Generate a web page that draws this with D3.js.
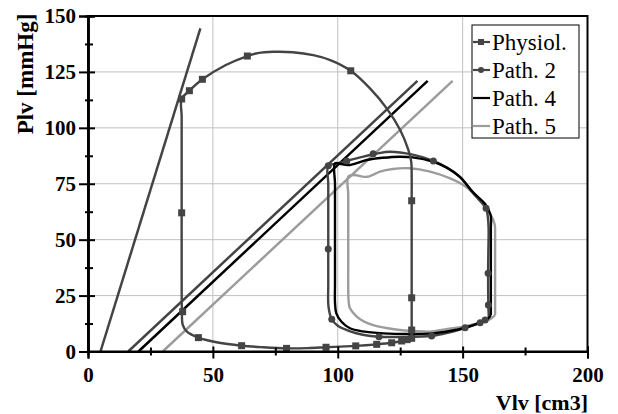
<!DOCTYPE html>
<html>
<head>
<meta charset="utf-8">
<script src="https://cdn.jsdelivr.net/npm/d3@7"></script>
<style>
  body { margin: 0; background: #fff; }
  svg { display: block; }
</style>
</head>
<body>
<script>
// chart values
const xTicks = [0, 50, 100, 150, 200];
const yTicks = [0, 25, 50, 75, 100, 125, 150];
const xMinor = [25, 75, 125, 175];
const yMinor = [12.5, 37.5, 62.5, 87.5, 112.5, 137.5];

const seriesNames = ["Physiol.", "Path. 2", "Path. 4", "Path. 5"];

// pressure-volume loops [V, P]
const physiolLoop = [[129.6,5.9],[129.6,9.6],[129.6,24],[129.6,45],[129.6,67.4],[129.6,78],[129.4,85],[128.3,90],[125,99],[119.6,108.7],[113,117.5],[105.2,125.5],[97,130.3],[90.2,132.5],[82,133.8],[74.2,134],[68,133.4],[63.8,132.1],[55,128],[45.8,121.7],[40.6,116.6],[37.5,112.9],[37.5,105],[37.5,90],[37.5,62],[37.5,35],[37.6,17.8],[37.9,12],[39.5,9],[44.2,6.2],[52,4],[61.5,2.6],[70,1.9],[79.5,1.4],[88,1.5],[95.3,1.9],[101,2.2],[107.2,2.5],[115.6,3.2],[121.6,3.9],[125.6,4.7],[129.6,5.9]];
const physiolMarkers = [[37.5,112.9],[40.6,116.6],[45.8,121.7],[63.8,132.1],[105.2,125.5],[129.6,67.4],[129.6,24],[129.6,9.6],[129.6,5.9],[127.8,5.3],[125.6,4.7],[121.6,3.9],[115.6,3.2],[107.2,2.5],[95.3,1.9],[79.5,1.4],[61.5,2.6],[44.2,6.2],[37.9,17.8],[37.5,62]];

const path2Loop = [[160.5,15],[160.3,20.8],[160.2,35],[160.3,45],[160.4,55],[160.1,60],[159.4,64],[156.5,68],[154.3,70.7],[149,78],[143.5,82.3],[138.3,85.2],[130,88],[121,89.3],[115.6,88.5],[109,86.8],[103.6,85.2],[99.5,84],[96.2,83],[96.2,75],[96.2,60],[96.2,45.8],[96.2,30],[96.3,20],[97.6,14.4],[100,11.5],[105,9],[110,7.5],[116.5,6.6],[125,6.5],[137.6,6.9],[144,8.3],[151,10.6],[157,12.9],[159,14.1],[160.5,15]];
const path2Markers = [[96.2,83],[103.6,85.2],[114.2,88.4],[138.3,85.2],[159.4,64],[160.2,35],[160.3,20.8],[159,14.1],[157,12.9],[151,10.6],[137.6,6.9],[116.5,6.6],[97.6,14.4],[96.2,45.8]];

const path4Loop = [[161.3,16.3],[161.3,30],[161.3,45],[161.3,55],[161.2,61],[159,66],[154.3,71],[149,78],[143.5,82.3],[138.3,84.8],[130,86.8],[124.9,87.1],[118,86.6],[111.6,85.6],[107,84],[104.9,83.4],[101.5,83.8],[98.9,84.1],[98.9,75],[98.9,60],[98.9,45],[98.9,30],[98.9,22],[99.4,17.2],[101.5,13.3],[104.9,10.4],[110,9],[118.2,8.1],[128,7.8],[138.3,8.1],[145,9.2],[150.3,10.4],[156,12.5],[160,14.5],[161.3,16.3]];

const path5Loop = [[163,16.3],[163,30],[163,45],[163,52],[162.8,57],[161,61.5],[158.3,65.5],[154.5,70.5],[150.3,74.4],[145,77.4],[137,80.4],[128.9,81.9],[122,81.6],[116.9,80.4],[113.5,78.7],[111.6,78.1],[109,78.4],[106.9,78.9],[104.2,78.1],[104.2,70],[104.2,55],[104.2,40],[104.2,28],[104.4,22],[104.9,19.3],[107.6,15.6],[110.5,13.4],[114.2,11.8],[120,10.4],[124.9,9.6],[130,9.2],[137,8.9],[143,9.9],[150.3,11.1],[156,12.6],[161,14.4],[163,16.3]];

// end-systolic pressure-volume lines
const physiolEspvr = [[5,0],[45,144.5]];
const path2Espvr = [[16.1,0],[131.9,121]];
const path4Espvr = [[20.2,0],[136,121]];
const path5Espvr = [[29.9,0],[146,121]];

const colors = ["#444444", "#444444", "#000000", "#9c9c9c"];
const font = "'Liberation Serif', 'Times New Roman', serif";

let svg, x, y, line, smooth;
const W = 618, H = 414;
const margin = {top: 16, left: 88, bottom: 62.5, right: 30.5};

appendSvg("body");
setupScales();
appendGrid();
appendEspvrLines();
appendLoops();
appendMarkers();
appendAxes();
appendLegend();
appendLabels();

function appendSvg(el) {
  svg = d3.select(el).append("svg").attr("width", W).attr("height", H);
}

function setupScales() {
  x = d3.scaleLinear().domain([0, 200]).range([margin.left, W - margin.right]);
  y = d3.scaleLinear().domain([0, 150]).range([H - margin.bottom, margin.top]);
  line = d3.line().x(d => x(d[0])).y(d => y(d[1]));
  smooth = d3.line().x(d => x(d[0])).y(d => y(d[1])).curve(d3.curveCatmullRom.alpha(0.5));
}

function appendGrid() {
  const g = svg.append("g").attr("stroke", "#c0c0c0").attr("stroke-width", 1);
  g.selectAll(".gx").data(xTicks.slice(1, -1)).enter().append("line")
    .attr("x1", d => x(d)).attr("x2", d => x(d))
    .attr("y1", y(0)).attr("y2", y(150));
  g.selectAll(".gy").data(yTicks.slice(1, -1)).enter().append("line")
    .attr("x1", x(0)).attr("x2", x(200))
    .attr("y1", d => y(d)).attr("y2", d => y(d));
}

function appendEspvrLines() {
  [physiolEspvr, path2Espvr, path4Espvr, path5Espvr].forEach((pts, i) => {
    svg.append("path").attr("d", line(pts))
      .attr("fill", "none").attr("stroke", colors[i]).attr("stroke-width", 2.5);
  });
}

function appendLoops() {
  const loops = [[path5Loop, 3], [path2Loop, 1], [path4Loop, 2], [physiolLoop, 0]];
  loops.forEach(([pts, i]) => {
    svg.append("path").attr("d", smooth(pts))
      .attr("fill", "none").attr("stroke", colors[i]).attr("stroke-width", 2.4);
  });
}

function appendMarkers() {
  svg.append("g").selectAll("circle").data(path2Markers).enter().append("circle")
    .attr("cx", d => x(d[0])).attr("cy", d => y(d[1])).attr("r", 3.5)
    .attr("fill", colors[1]);
  svg.append("g").selectAll("rect").data(physiolMarkers).enter().append("rect")
    .attr("x", d => x(d[0]) - 3.5).attr("y", d => y(d[1]) - 3.5)
    .attr("width", 7).attr("height", 7).attr("fill", colors[0]);
}

function appendAxes() {
  // frame
  svg.append("rect").attr("x", x(0)).attr("y", y(150))
    .attr("width", x(200) - x(0)).attr("height", y(0) - y(150))
    .attr("fill", "none").attr("stroke", "#000").attr("stroke-width", 2);

  const yl = svg.append("g").attr("transform", `translate(${x(0)},0)`)
    .call(d3.axisLeft(y).tickValues(yTicks).tickSize(9).tickPadding(3));
  svg.append("g").attr("transform", `translate(${x(0)},0)`)
    .call(d3.axisRight(y).tickValues(yTicks).tickSize(7).tickFormat(""));
  svg.append("g").attr("transform", `translate(${x(0)},0)`)
    .call(d3.axisLeft(y).tickValues(yMinor).tickSize(3).tickFormat(""));
  svg.append("g").attr("transform", `translate(${x(0)},0)`)
    .call(d3.axisRight(y).tickValues(yMinor).tickSize(5).tickFormat(""));

  const xl = svg.append("g").attr("transform", `translate(0,${y(0)})`)
    .call(d3.axisBottom(x).tickValues(xTicks).tickSize(7).tickPadding(9));
  svg.append("g").attr("transform", `translate(0,${y(0)})`)
    .call(d3.axisTop(x).tickValues(xTicks).tickSize(5).tickFormat(""));
  svg.append("g").attr("transform", `translate(0,${y(0)})`)
    .call(d3.axisBottom(x).tickValues(xMinor).tickSize(4).tickFormat(""));
  svg.append("g").attr("transform", `translate(0,${y(0)})`)
    .call(d3.axisTop(x).tickValues(xMinor).tickSize(4).tickFormat(""));

  svg.selectAll(".domain").attr("stroke", "#000").attr("stroke-width", 2);
  svg.selectAll(".tick line").attr("stroke", "#000").attr("stroke-width", 2);
  [yl, xl].forEach(a => a.selectAll("text")
    .attr("font-family", font).attr("font-size", 21).attr("font-weight", "bold").attr("fill", "#000"));
}

function appendLegend() {
  const lg = svg.append("g");
  lg.append("rect").attr("x", 472).attr("y", 25).attr("width", 107).attr("height", 113)
    .attr("fill", "#fff").attr("stroke", "#000").attr("stroke-width", 1);
  const items = lg.selectAll(".item").data(seriesNames).enter().append("g")
    .attr("transform", (d, i) => `translate(473,${42 + i * 28})`);
  items.append("line").attr("x1", 0).attr("x2", 17).attr("y1", 0).attr("y2", 0)
    .attr("stroke", (d, i) => colors[i]).attr("stroke-width", 2.2);
  items.filter((d, i) => i === 0).append("rect")
    .attr("x", 5).attr("y", -3).attr("width", 6).attr("height", 6).attr("fill", colors[0]);
  items.filter((d, i) => i === 1).append("circle")
    .attr("cx", 8).attr("cy", 0).attr("r", 3).attr("fill", colors[1]);
  items.append("text").attr("x", 19).attr("y", 0).attr("dy", "0.35em")
    .attr("font-family", font).attr("font-size", 23).attr("fill", "#000")
    .text(d => d);
}

function appendLabels() {
  svg.append("text").attr("transform", "translate(33,74) rotate(-90)")
    .attr("text-anchor", "middle").attr("font-family", font).attr("font-size", 23)
    .attr("font-weight", "bold").text("Plv [mmHg]");
  svg.append("text").attr("x", 588).attr("y", 410).attr("text-anchor", "end")
    .attr("font-family", font).attr("font-size", 22).attr("font-weight", "bold")
    .text("Vlv [cm3]");
}
</script>
</body>
</html>
